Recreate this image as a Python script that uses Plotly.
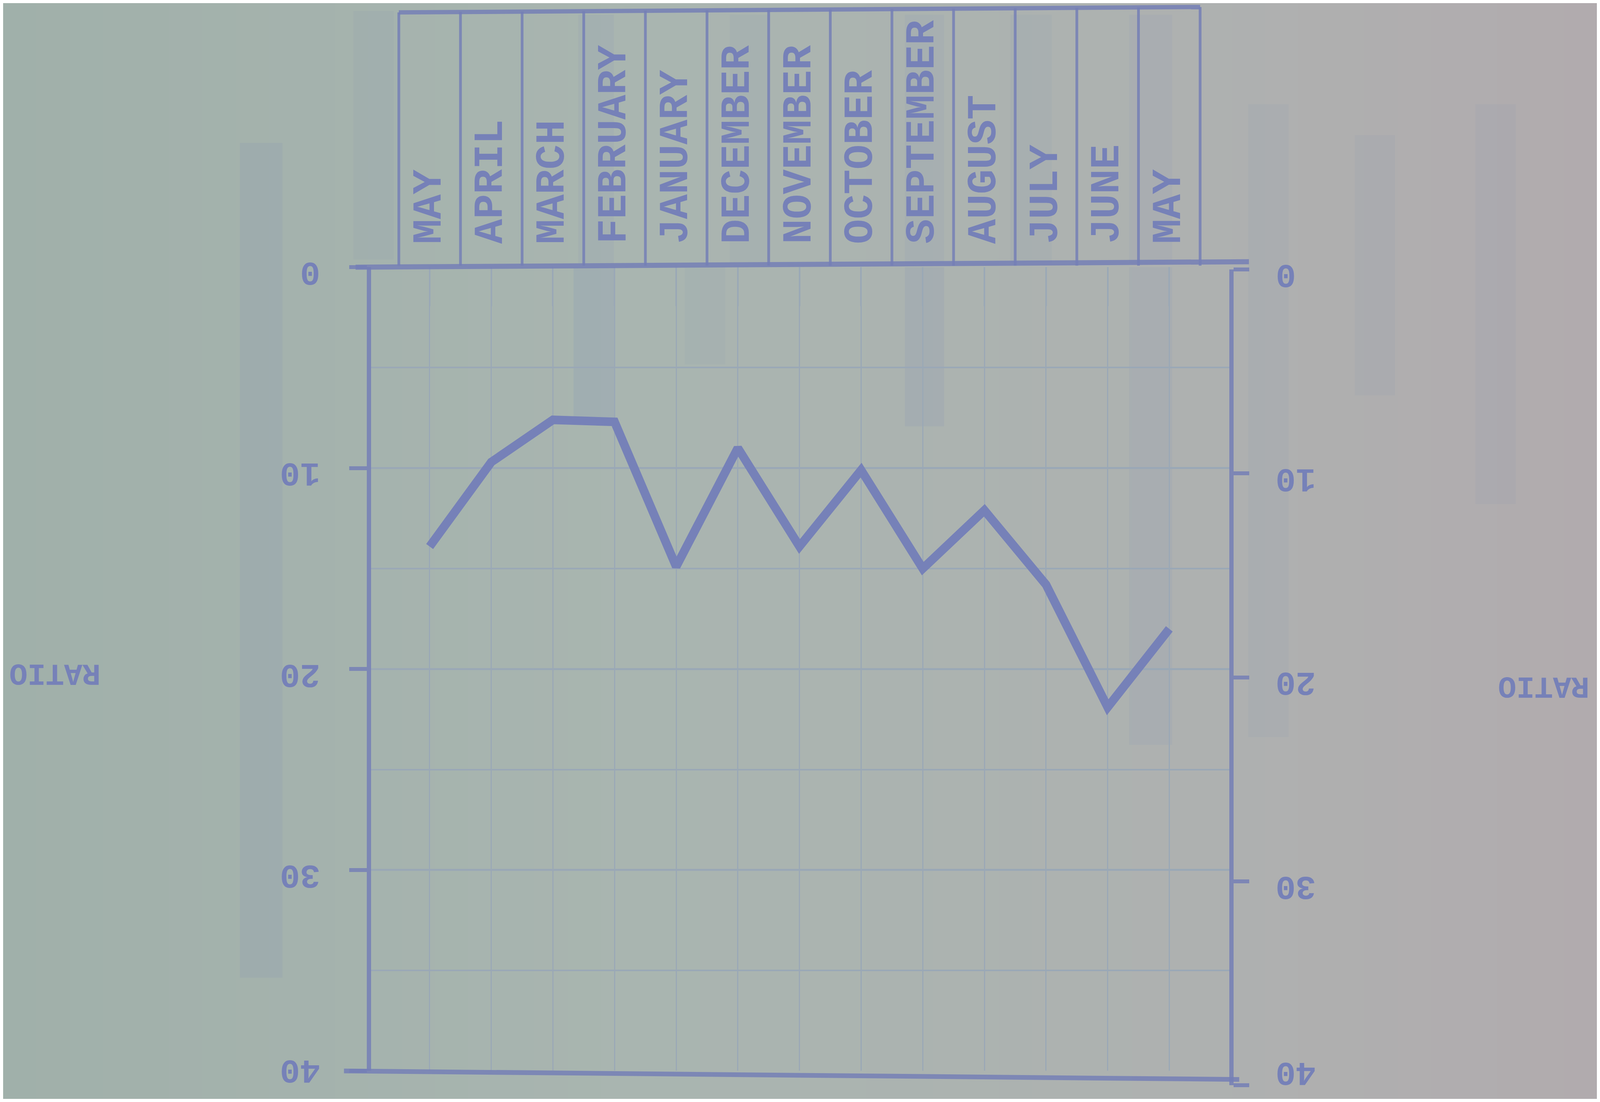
import plotly.graph_objects as go

# ---------------- data ----------------
months = ["MAY", "APRIL", "MARCH", "FEBRUARY", "JANUARY", "DECEMBER", "NOVEMBER",
          "OCTOBER", "SEPTEMBER", "AUGUST", "JULY", "JUNE", "MAY"]
ratio = [13.9, 9.7, 7.6, 7.7, 14.9, 9.0, 13.9, 10.1, 15.0, 12.1, 15.8, 21.9, 18.0]
tick_values = [0, 10, 20, 30, 40]
tick_labels = ["0", "10", "20", "30", "40"]
axis_title = "RATIO"

# ---------------- geometry / style ----------------
RW, RH = 6733, 2822          # reference pixel frame used for placement
INK = "rgb(118,129,184)"
INK_SOFT = "rgba(116,127,182,0.85)"
GRID = "rgb(154,168,182)"
FONT = "Liberation Mono"

def px(x):  # reference pixel -> paper x
    return x / RW

def py(y):  # reference pixel -> paper y
    return 1 - y / RH

idx = list(range(len(months)))

fig = go.Figure()

fig.add_trace(go.Scatter(
    x=idx, y=ratio, mode="lines",
    line=dict(color=INK, width=22),
    showlegend=False, hoverinfo="skip"))

# dummy trace so the right-hand axis gets drawn
fig.add_trace(go.Scatter(x=[None], y=[None], xaxis="x2", yaxis="y2",
                         showlegend=False, hoverinfo="skip"))

shapes = []

# paper background gradient (left greenish -> right greyish)
stops = [(0.0, (160, 176, 170)), (0.4, (169, 181, 176)),
         (0.75, (174, 177, 176)), (1.0, (177, 171, 174))]

def col_at(t):
    for (t0, c0), (t1, c1) in zip(stops[:-1], stops[1:]):
        if t0 <= t <= t1:
            f = (t - t0) / (t1 - t0)
            return tuple(int(round(a + (b - a) * f)) for a, b in zip(c0, c1))
    return stops[-1][1]

N = 48
for k in range(N):
    t = (k + 0.5) / N
    c = col_at(t)
    shapes.append(dict(type="rect", xref="paper", yref="paper",
                       x0=k / N, x1=(k + 1) / N + 0.002, y0=0, y1=1,
                       fillcolor="rgb(%d,%d,%d)" % c, line=dict(width=0),
                       layer="below"))

# faint bleed-through bands from the back of the sheet
ghosts = [
    (1000, 1180, 360, 2510, 0.10),
    (2410, 2585, 680, 1070, 0.13),
    (2880, 3050, 680, 930, 0.06),
    (3810, 3975, 680, 1090, 0.11),
    (4757, 4938, 680, 1910, 0.09),
    (2430, 2580, 30, 670, 0.08),
    (3070, 3240, 30, 670, 0.06),
    (3810, 3975, 30, 670, 0.08),
    (4255, 4430, 30, 670, 0.06),
    (4757, 4938, 30, 670, 0.08),
    (1480, 1650, 20, 660, 0.07),
    (5260, 5430, 260, 1890, 0.06),
    (5710, 5880, 340, 1010, 0.06),
    (6220, 6390, 260, 1290, 0.06),
]
for x0, x1, y0, y1, a in ghosts:
    shapes.append(dict(type="rect", xref="paper", yref="paper",
                       x0=px(x0), x1=px(x1), y0=py(y1), y1=py(y0),
                       fillcolor="rgba(110,130,190,%.2f)" % a,
                       line=dict(width=0), layer="below"))

# header box of month columns
hdr_top_l, hdr_top_r, hdr_bot = 24, 10, 676
shapes.append(dict(type="line", xref="x", yref="paper",
                   x0=-0.5, x1=len(months) - 0.5,
                   y0=py(hdr_top_l), y1=py(hdr_top_r),
                   line=dict(color=INK_SOFT, width=11)))
for i in range(len(months) + 1):
    xb = i - 0.5
    yt = hdr_top_l + (hdr_top_r - hdr_top_l) * i / len(months)
    shapes.append(dict(type="line", xref="x", yref="paper",
                       x0=xb, x1=xb, y0=py(yt), y1=py(hdr_bot),
                       line=dict(color=INK_SOFT, width=7)))

# top and bottom frame lines extending past the axes
shapes.append(dict(type="line", xref="paper", yref="paper",
                   x0=px(1489), x1=px(5263), y0=py(680), y1=py(666),
                   line=dict(color=INK_SOFT, width=13)))
shapes.append(dict(type="line", xref="paper", yref="paper",
                   x0=px(1440), x1=px(5222), y0=py(2750), y1=py(2772),
                   line=dict(color=INK_SOFT, width=12)))

annotations = []

# month labels (typed vertically)
for i, m in enumerate(months):
    annotations.append(dict(x=i, xref="x", y=py(622), yref="paper",
                            text="<b>%s</b>" % m, showarrow=False, textangle=-90,
                            xanchor="center", yanchor="bottom",
                            font=dict(family=FONT, size=106, color=INK)))

# upside-down tick labels, left and right
for v, lab in zip(tick_values, tick_labels):
    last = v == tick_values[-1]
    annotations.append(dict(x=px(1343), xref="paper", y=v, yref="y",
                            text="<b>%s</b>" % lab, showarrow=False, textangle=180,
                            xanchor="right", yanchor="middle",
                            yshift=4 if last else -12,
                            font=dict(family=FONT, size=86, color=INK)))
    annotations.append(dict(x=px(5372), xref="paper", y=v, yref="y2",
                            text="<b>%s</b>" % lab, showarrow=False, textangle=180,
                            xanchor="left", yanchor="middle",
                            yshift=34 if last else -12,
                            font=dict(family=FONT, size=86, color=INK)))

# upside-down axis titles
annotations.append(dict(x=px(22), xref="paper", y=py(1725), yref="paper",
                        text="<b>%s</b>" % axis_title, showarrow=False, textangle=180,
                        xanchor="left", yanchor="middle",
                        font=dict(family=FONT, size=78, color=INK)))
annotations.append(dict(x=px(6705), xref="paper", y=py(1758), yref="paper",
                        text="<b>%s</b>" % axis_title, showarrow=False, textangle=180,
                        xanchor="right", yanchor="middle",
                        font=dict(family=FONT, size=78, color=INK)))

x_left, x_right = 1554, 5180
x_dom = [px(x_left), px(x_right)]
x_range = [-0.952, 12.973]

fig.update_layout(
    autosize=True,
    margin=dict(l=0, r=0, t=0, b=0, pad=0),
    paper_bgcolor="rgb(169,181,176)",
    plot_bgcolor="rgba(0,0,0,0)",
    showlegend=False,
    shapes=shapes,
    annotations=annotations,
    xaxis=dict(domain=x_dom, range=x_range, side="top",
               tickmode="array", tickvals=idx, showticklabels=False,
               ticks="inside", ticklen=100, tickwidth=4, tickcolor=GRID,
               showgrid=True, gridcolor=GRID, gridwidth=3,
               zeroline=False, showline=False, fixedrange=True),
    yaxis=dict(domain=[py(2750), py(680)], range=[40, 0], anchor="x",
               tickmode="array", tickvals=tick_values, showticklabels=False,
               ticks="outside", ticklen=45, tickwidth=10, tickcolor=INK_SOFT,
               showline=True, linecolor=INK_SOFT, linewidth=11,
               showgrid=True, gridcolor=GRID, gridwidth=5,
               minor=dict(dtick=5, tick0=0, showgrid=True, gridcolor=GRID,
                          gridwidth=4, ticks=""),
               zeroline=False, fixedrange=True),
    xaxis2=dict(domain=x_dom, range=x_range, anchor="y2", visible=False,
                showgrid=False, zeroline=False),
    yaxis2=dict(domain=[py(2787), py(686)], range=[40, 0], anchor="x2",
                side="right", tickmode="array", tickvals=tick_values,
                showticklabels=False, ticks="outside", ticklen=40,
                tickwidth=10, tickcolor=INK_SOFT,
                showline=True, linecolor=INK_SOFT, linewidth=11,
                showgrid=False, zeroline=False, fixedrange=True),
)

fig.write_html("out.html", default_width="100%", default_height="100%",
               config={"responsive": True, "displayModeBar": False})
